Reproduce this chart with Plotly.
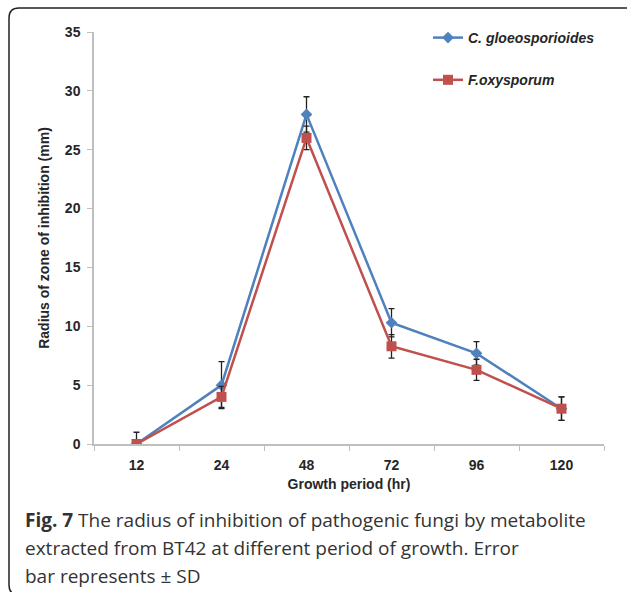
import plotly.graph_objects as go

categories = ["12", "24", "48", "72", "96", "120"]
c_gloeo = [0, 5, 28, 10.3, 7.7, 3]
c_gloeo_sd = [0, 2, 1.5, 1.2, 1.0, 1.0]
f_oxy = [0, 4, 26, 8.3, 6.3, 3]
f_oxy_sd = [1.0, 0.9, 1.0, 1.0, 0.9, 1.0]
y_ticks = [0, 5, 10, 15, 20, 25, 30, 35]

W, H = 627, 592
ML, MR, MT, MB = 94, 23, 32, 148
PW, PH = W - ML - MR, H - MT - MB

def px(x):
    return (x - ML) / PW

def py(y):
    return (H - MB - y) / PH

fig = go.Figure()
fig.add_trace(go.Scatter(
    x=categories, y=c_gloeo, name="C. gloeosporioides", mode="lines+markers",
    line=dict(color="#4F81BD", width=2.5),
    marker=dict(symbol="diamond", size=9, color="#4F81BD"),
    error_y=dict(type="data", array=c_gloeo_sd, color="#222222", thickness=1.3, width=3),
    legendgroup="a",
))
fig.add_trace(go.Scatter(
    x=categories, y=f_oxy, name="F.oxysporum", mode="lines+markers",
    line=dict(color="#C0504D", width=2.5),
    marker=dict(symbol="square", size=10, color="#C0504D"),
    error_y=dict(type="data", array=f_oxy_sd, color="#222222", thickness=1.3, width=3),
    legendgroup="b",
))

axis_font = dict(family="Liberation Sans", size=14, color="#262626", weight="bold")
fig.update_xaxes(
    type="category", range=[-0.5, 5.5], showgrid=False, zeroline=False,
    showline=True, linecolor="#BFBFBF", linewidth=1.5,
    ticks="outside", tickson="boundaries", ticklen=5, tickcolor="#BFBFBF",
    tickfont=axis_font, ticklabelstandoff=7,
    title=dict(text="Growth period (hr)", font=axis_font, standoff=8),
)
fig.update_yaxes(
    range=[0, 35], tickvals=y_ticks, showgrid=False, zeroline=False,
    showline=True, linecolor="#BFBFBF", linewidth=1.5,
    ticks="outside", ticklen=5, tickcolor="#BFBFBF",
    tickfont=axis_font, ticklabelstandoff=4,
    title=dict(text="Radius of zone of inhibition (mm)", font=axis_font, standoff=12),
)

cap_font = dict(family="Open Sans", size=19, color="#333333")
lines = [
    "<b>Fig. 7</b> The radius of inhibition of pathogenic fungi by metabolite",
    "extracted from BT42 at different period of growth. Error",
    "bar represents ± SD",
]
for i, t in enumerate(lines):
    fig.add_annotation(
        text=t, xref="paper", yref="paper", x=px(23), y=py(520 + 28 * i),
        xanchor="left", yanchor="middle", showarrow=False, font=cap_font,
    )

# rounded frame (right and bottom edges run past the image)
x0, y0, x1, y1, r = 9, 8, 640, 595, 10
path = (f"M {px(x0)},{py(y0 + r)} Q {px(x0)},{py(y0)} {px(x0 + r)},{py(y0)} "
        f"L {px(x1)},{py(y0)} L {px(x1)},{py(y1)} "
        f"L {px(x0 + r)},{py(y1)} Q {px(x0)},{py(y1)} {px(x0)},{py(y1 - r)} Z")
fig.add_shape(type="path", path=path, xref="paper", yref="paper",
              line=dict(color="#222222", width=1.5), fillcolor="rgba(0,0,0,0)", layer="above")

fig.update_layout(
    width=W, height=H, margin=dict(l=ML, r=MR, t=MT, b=MB),
    paper_bgcolor="white", plot_bgcolor="white",
    showlegend=True,
    legend=dict(
        x=px(428), y=py(22), xanchor="left", yanchor="top",
        font=dict(family="Liberation Sans", size=14, color="#262626", style="italic", weight="bold"),
        traceorder="grouped", tracegroupgap=21, bgcolor="rgba(0,0,0,0)",
    ),
)

fig.write_html("out.html")
